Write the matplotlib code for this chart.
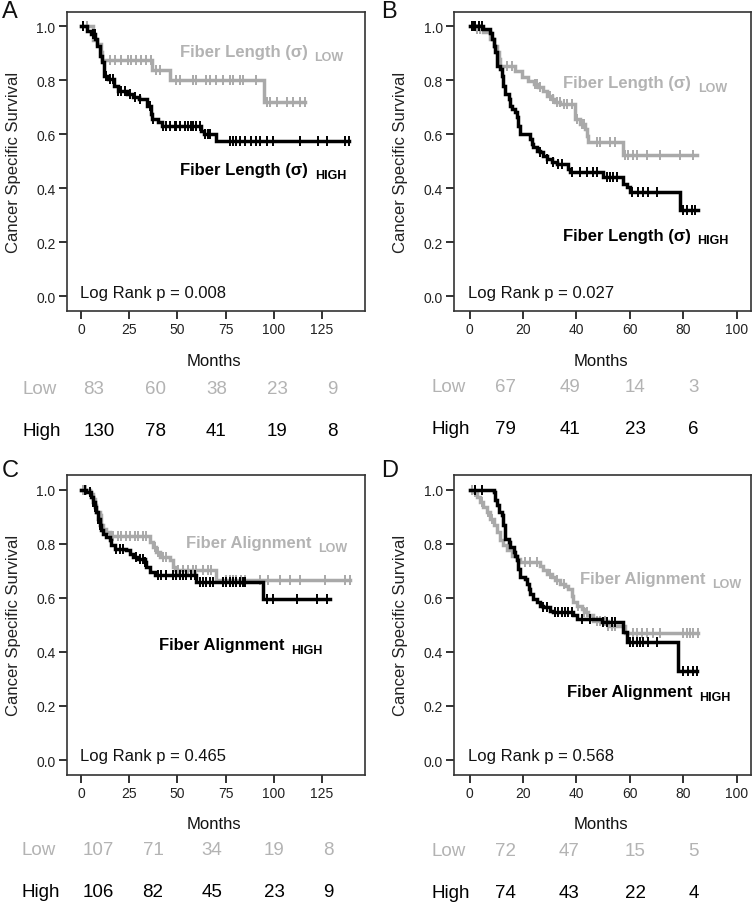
import numpy as np
import matplotlib
matplotlib.use("Agg")
import matplotlib.pyplot as plt

plt.rcParams['font.family'] = ['Liberation Sans', 'DejaVu Sans']

W, H = 753, 904
GRAY = '#a9a9a9'
GRAY_TXT = '#b3b3b3'
BLACK = '#000000'

# ---------------- Panel A : Fiber Length (sigma) ----------------
a_low_t = [0, 6, 8, 10, 11, 37, 46, 95]
a_low_s = [1.0, 0.95, 0.934, 0.905, 0.876, 0.84, 0.80, 0.718]
a_low_end = 116.3
a_low_cens = [1, 3, 14.7, 17.3, 20.8, 24.3, 26, 28.6, 31.2, 33.9, 36.5, 39, 40.8,
              49.5, 51.2, 58.1, 59.9, 65.1, 66.8, 70.3, 73.8, 77.2, 79, 82.5, 84.2,
              91.1, 96.4, 98.1, 101.6, 106.8, 110.2, 113.6, 116.3]

a_high_t = [0, 3, 5, 7, 8, 9.5, 11, 12, 14, 17, 19, 24, 27, 30, 34, 36, 37, 40, 42, 62, 64, 70]
a_high_s = [1.0, 0.984, 0.971, 0.953, 0.928, 0.891, 0.867, 0.817, 0.805, 0.78, 0.761,
            0.749, 0.737, 0.731, 0.706, 0.675, 0.657, 0.644, 0.63, 0.613, 0.601, 0.576]
a_high_end = 139.4
a_high_cens = [0.85, 6.05, 6.9, 13, 14.7, 16.5, 19.1, 20.8, 22.6, 25.2, 27.8, 30.4, 35.6,
               37.3, 42.5, 44.2, 46, 48.6, 49.5, 51.2, 53.8, 55.5, 57.3, 58.1, 59.9,
               61.6, 64.2, 65.9, 66.8, 77.2, 79, 80.7, 82.5, 85.1, 88.5, 91.1, 92.9,
               96.4, 99.8, 113.7, 123.3, 127.6, 137.1, 139.4]

# ---------------- Panel B : Fiber Length (sigma) ----------------
b_low_t = [0, 2.5, 5, 7.7, 9, 10.2, 10.9, 11.5, 17, 19.6, 22, 24, 25.8, 27.7, 29, 30.8,
           32, 34, 39.5, 41.4, 43.3, 44, 44.5, 57.6]
b_low_s = [1.0, 0.99, 0.978, 0.953, 0.928, 0.904, 0.879, 0.854, 0.835, 0.811, 0.799,
           0.787, 0.774, 0.762, 0.743, 0.731, 0.721, 0.712, 0.657, 0.638, 0.62, 0.595,
           0.573, 0.524]
b_low_end = 85.1
b_low_cens = [0.9, 1.5, 2.75, 4, 14, 15.8, 24.6, 25.2, 26.4, 30.2, 31.4, 32.7, 33.9, 35.2,
              36.4, 38.3, 40.2, 42, 42.7, 47.6, 48.9, 52.6, 54.5, 58.2, 59.5, 61.4, 62.6,
              66.3, 71.3, 78.8, 83.8]

b_high_t = [0, 5.2, 7.7, 8.4, 9, 9.6, 10.2, 11.5, 12.1, 12.7, 13.4, 14.6, 15.2, 15.8, 17.1,
            17.7, 18.3, 19, 22.7, 23.3, 23.9, 25.2, 26.4, 27.7, 28.9, 30.8, 32.7, 37, 37.7,
            50.1, 57.6, 58.9, 60.1, 78.8]
b_high_s = [1.0, 0.99, 0.975, 0.953, 0.928, 0.904, 0.854, 0.842, 0.817, 0.78, 0.749, 0.731,
            0.706, 0.694, 0.682, 0.663, 0.632, 0.601, 0.583, 0.564, 0.552, 0.54, 0.533,
            0.521, 0.509, 0.496, 0.49, 0.472, 0.459, 0.441, 0.416, 0.404, 0.388, 0.321]
b_high_end = 85.7
b_high_cens = [0.9, 1.5, 2.1, 3.4, 4.6, 26.4, 28.9, 31.4, 33.3, 34.6, 38.3, 41.4, 43.9,
               46.4, 47.6, 51.4, 52.6, 53.9, 55.1, 60.7, 63.2, 65.1, 66.9, 70.1, 80.1,
               81.3, 83.2, 84.5]

# ---------------- Panel C : Fiber Alignment ----------------
c_low_t = [0, 4.3, 6.1, 6.9, 7.8, 9.5, 10.4, 11.3, 13, 14.7, 35.6, 37.3, 39, 40.8, 46,
           47.7, 48.6, 69.9]
c_low_s = [1.0, 0.985, 0.966, 0.942, 0.917, 0.905, 0.868, 0.855, 0.843, 0.83, 0.806,
           0.788, 0.769, 0.751, 0.738, 0.715, 0.703, 0.664]
c_low_end = 139.7
c_low_cens = [0.85, 2.6, 6.9, 16.5, 19.1, 20.8, 23.4, 25.2, 27.8, 29.5, 32.1, 33.9, 38.2,
              39.9, 42.5, 44.3, 50.3, 52.9, 55.5, 58.1, 59.9, 63.3, 65.9, 67.7, 75.5,
              77.2, 79, 80.7, 83.3, 85.1, 92.9, 97.2, 103.3, 108.5, 113.7, 126.7, 137.1,
              139.7]

c_high_t = [0, 2.6, 5.2, 6.1, 6.9, 7.8, 8.7, 9.5, 10.4, 11.3, 13, 14.7, 15.6, 17.3, 23.4,
            25.2, 26.9, 29.5, 33, 33.9, 35.6, 38.2, 59.9, 94.3]
c_high_s = [1.0, 0.992, 0.973, 0.954, 0.936, 0.917, 0.893, 0.868, 0.849, 0.837, 0.824,
            0.812, 0.794, 0.781, 0.775, 0.763, 0.75, 0.744, 0.732, 0.713, 0.695, 0.683,
            0.658, 0.596]
c_high_end = 129.3
c_high_cens = [1.7, 4.3, 6.1, 6.9, 8.7, 9.5, 18.2, 19.9, 21.7, 28.6, 30.4, 32.1, 33, 39.9,
               41.7, 44.3, 47.7, 49.5, 51.2, 52.9, 54.7, 57.3, 59, 61.6, 63.3, 65.1, 66.8,
               68.6, 73.8, 75.5, 77.2, 79, 80.7, 82.5, 84.2, 85.1, 96.4, 99.8, 112,
               122.4, 127.6]

# ---------------- Panel D : Fiber Alignment ----------------
d_low_t = [0, 1.5, 2.75, 4, 5.2, 6.5, 7.7, 9, 10.2, 11.5, 12.7, 14, 15.8, 17.7, 19, 26.4,
           27.7, 28.9, 30.8, 32.1, 33.9, 35.8, 37, 38.3, 38.9, 40.2, 42, 42.7, 44.5, 46.4,
           52, 58.2]
d_low_s = [1.0, 0.991, 0.973, 0.954, 0.936, 0.917, 0.893, 0.868, 0.843, 0.812, 0.794,
           0.775, 0.756, 0.744, 0.734, 0.717, 0.701, 0.689, 0.676, 0.664, 0.651, 0.645,
           0.633, 0.608, 0.583, 0.571, 0.559, 0.547, 0.535, 0.516, 0.497, 0.47]
d_low_end = 85.7
d_low_cens = [0.9, 2.1, 4.6, 7.1, 8.4, 20.8, 22.7, 25.2, 30.2, 32.7, 35.2, 40.8, 42.7,
              43.9, 47.6, 48.9, 50.8, 52, 53.3, 54.5, 61.4, 62.6, 64.5, 66.3, 68.8, 71.3,
              80.1, 81.3, 82.6, 83.8, 85.7]

d_high_t = [0, 9, 9.6, 10.2, 10.9, 12.1, 12.7, 13.4, 14.6, 15.2, 16.5, 17.1, 17.7, 18.3,
            19, 20.8, 21.4, 22.1, 22.7, 23.9, 25.2, 26.4, 27.7, 30.2, 31.4, 38.9, 40.2,
            49.5, 57.6, 58.9, 78.2]
d_high_s = [1.0, 0.991, 0.96, 0.942, 0.917, 0.905, 0.868, 0.818, 0.806, 0.787, 0.769,
            0.756, 0.738, 0.707, 0.676, 0.67, 0.651, 0.633, 0.614, 0.596, 0.583, 0.571,
            0.565, 0.553, 0.547, 0.535, 0.522, 0.509, 0.472, 0.435, 0.328]
d_high_end = 85.1
d_high_cens = [2.1, 4.6, 27.7, 28.9, 32.1, 33.3, 34.6, 35.8, 37, 38.3, 42, 45.1, 50.1,
               51.4, 53.3, 54.5, 60.1, 61.4, 62.6, 63.9, 65.1, 67, 70.1, 80.1, 81.9,
               83.8, 85.1]

# ---------------- Numbers at risk ----------------
a_risk_low = ['83', '60', '38', '23', '9']
a_risk_high = ['130', '78', '41', '19', '8']
b_risk_low = ['67', '49', '14', '3']
b_risk_high = ['79', '41', '23', '6']
c_risk_low = ['107', '71', '34', '19', '8']
c_risk_high = ['106', '82', '45', '23', '9']
d_risk_low = ['72', '47', '15', '5']
d_risk_high = ['74', '43', '22', '4']

pvals = ['0.008', '0.027', '0.465', '0.568']
feat = ['Fiber Length (\u03c3)', 'Fiber Length (\u03c3)', 'Fiber Alignment', 'Fiber Alignment']

fig = plt.figure(figsize=(W / 100, H / 100), dpi=100)


def fx(px):
    return px / W


def fy(py):
    return 1 - py / H


def axes_px(l, t, r, b):
    return fig.add_axes([fx(l), fy(b), (r - l) / W, (b - t) / H])


def km(ax, t, s, end, cens, color, z):
    t = np.asarray(t, float)
    s = np.asarray(s, float)
    tt = np.append(t, end)
    ss = np.append(s, s[-1])
    ax.step(tt, ss, where='post', color=color, lw=2.5, zorder=z, solid_joinstyle='miter')
    c = np.asarray(cens, float)
    idx = np.searchsorted(t, c, side='right') - 1
    ax.plot(c, s[idx], linestyle='none', marker='|', ms=7, mew=1.4, color=color, zorder=z)


panels = [
    dict(box=(66.7, 12.7, 364.5, 312), xlim=(-7.6, 147.3), xt=[0, 25, 50, 75, 100, 125],
         low=(a_low_t, a_low_s, a_low_end, a_low_cens),
         high=(a_high_t, a_high_s, a_high_end, a_high_cens),
         lowlab=(118.0, 0.905, 121.2, 0.885), highlab=(118.0, 0.468, 121.4, 0.450),
         letter='A', letpos=(1.5, 1), risk=(a_risk_low, a_risk_high),
         cols=[83.3, 145, 206, 266.7, 327], lab_x=23, ry=(390, 431), my=362),
    dict(box=(454.3, 12.7, 751, 312), xlim=(-5.7, 105.4), xt=[0, 20, 40, 60, 80, 100],
         low=(b_low_t, b_low_s, b_low_end, b_low_cens),
         high=(b_high_t, b_high_s, b_high_end, b_high_cens),
         lowlab=(82.8, 0.793, 85.6, 0.773), highlab=(82.8, 0.227, 85.4, 0.208),
         letter='B', letpos=(381, 1), risk=(b_risk_low, b_risk_high),
         cols=[495, 560, 625, 688.3], lab_x=431.7, ry=(388, 429.5), my=362),
    dict(box=(66.7, 476, 364.5, 775.7), xlim=(-7.6, 147.3), xt=[0, 25, 50, 75, 100, 125],
         low=(c_low_t, c_low_s, c_low_end, c_low_cens),
         high=(c_high_t, c_high_s, c_high_end, c_high_cens),
         lowlab=(119.8, 0.803, 123.2, 0.783), highlab=(105.9, 0.426, 109.0, 0.406),
         letter='C', letpos=(1.5, 460), risk=(c_risk_low, c_risk_high),
         cols=[82.7, 142.5, 201.7, 264, 323.3], lab_x=21.7, ry=(851, 893), my=825),
    dict(box=(454.3, 476, 751, 775.7), xlim=(-5.7, 105.4), xt=[0, 20, 40, 60, 80, 100],
         low=(d_low_t, d_low_s, d_low_end, d_low_cens),
         high=(d_high_t, d_high_s, d_high_end, d_high_cens),
         lowlab=(88.2, 0.670, 90.8, 0.650), highlab=(83.4, 0.254, 86.0, 0.234),
         letter='D', letpos=(381, 460), risk=(d_risk_low, d_risk_high),
         cols=[495, 559, 625, 688.3], lab_x=431.7, ry=(851.5, 893.3), my=825),
]

for i, p in enumerate(panels):
    l, t, r, b = p['box']
    ax = axes_px(l, t, r, b)
    km(ax, *p['low'], GRAY, 2)
    km(ax, *p['high'], BLACK, 3)
    ax.set_xlim(*p['xlim'])
    ax.set_ylim(-0.054, 1.054)
    ax.set_xticks(p['xt'])
    ax.set_yticks([0, 0.2, 0.4, 0.6, 0.8, 1.0])
    ax.set_yticklabels(['0.0', '0.2', '0.4', '0.6', '0.8', '1.0'])
    ax.tick_params(direction='out', length=6, width=1.3, labelsize=10, colors='#222222',
                   pad=2)
    for sp in ax.spines.values():
        sp.set_linewidth(1.2)
        sp.set_color('#333333')
    ax.set_ylabel('Cancer Specific Survival', fontsize=12, color='#222222')
    ax.yaxis.set_label_coords(-0.155, 0.5)

    x1, y1, x2, y2 = p['lowlab']
    ax.text(x1, y1, feat[i], color=GRAY_TXT, fontsize=12, fontweight='bold',
            ha='right', va='center')
    ax.text(x2, y2, 'LOW', color=GRAY_TXT, fontsize=9, fontweight='bold',
            ha='left', va='center')
    x1, y1, x2, y2 = p['highlab']
    ax.text(x1, y1, feat[i], color=BLACK, fontsize=12, fontweight='bold',
            ha='right', va='center')
    ax.text(x2, y2, 'HIGH', color=BLACK, fontsize=9, fontweight='bold',
            ha='left', va='center')

    ax.text(0.045, 0.063, 'Log Rank p = ' + pvals[i], transform=ax.transAxes,
            fontsize=12, ha='left', va='center', color='#111111')

    fig.text(fx(p['letpos'][0]), fy(p['letpos'][1]), p['letter'], fontsize=17,
             ha='left', va='top', color='#111111')

    fig.text(fx((l + r) / 2 - 2), fy(p['my']), 'Months', fontsize=12, ha='center',
             va='center', color='#111111')
    lows, highs = p['risk']
    fig.text(fx(p['lab_x']), fy(p['ry'][0]), 'Low', fontsize=13.5, ha='left',
             va='center', color=GRAY_TXT)
    fig.text(fx(p['lab_x']), fy(p['ry'][1]), 'High', fontsize=13.5, ha='left',
             va='center', color=BLACK)
    for cx, lv, hv in zip(p['cols'], lows, highs):
        fig.text(fx(cx), fy(p['ry'][0]), lv, fontsize=13.5, ha='left', va='center',
                 color=GRAY_TXT)
        fig.text(fx(cx), fy(p['ry'][1]), hv, fontsize=13.5, ha='left', va='center',
                 color=BLACK)

fig.savefig('out.png', dpi=100)
